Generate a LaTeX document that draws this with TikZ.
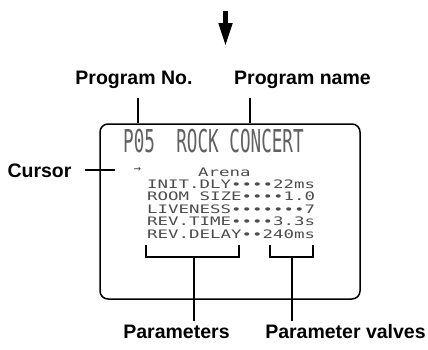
\documentclass[tikz,border=0pt]{standalone}
\usepackage{graphicx}
\usepackage{fontspec}
\setmainfont{Liberation Sans}
\newfontfamily\lcdfont{DejaVu Sans Mono}
\usepackage{tikz}
\usetikzlibrary{positioning, arrows.meta}

% condensed / widened lcd lettering
\newcommand{\lcdnarrow}[1]{\scalebox{0.56}[1]{#1}}
\newcommand{\lcdwide}[1]{\scalebox{1.49}[1]{#1}}

\begin{document}
\begin{tikzpicture}[
			x=1pt, y=-1pt,
			callout/.style={font=\fontsize{19.5}{22}\selectfont\bfseries, inner sep=0pt, anchor=base},
			screenbox/.style={rectangle, draw, line width=1.5pt, rounded corners=8pt, minimum width=260pt, minimum height=175pt},
			lcdbig/.style={font=\lcdfont\fontsize{31.5}{34}\selectfont, text=black!62, inner sep=0pt, anchor=base west},
			lcd/.style={font=\lcdfont\fontsize{11.7}{12.4}\selectfont, text=black!70, inner sep=0pt, anchor=base west},
			leader/.style={line width=2pt},
			flow/.style={line width=5.5pt, -{Triangle[width=12.5pt, length=24pt]}}
			]
			\useasboundingbox (0,0) rectangle (428,349);

			% Incoming arrow
			\coordinate (flowtop) at (225.5,10.5);
			\coordinate (flowtip) at (225.5,47);
			\draw [flow] (flowtop) -- (flowtip);

			% Display frame
			\node (screen) [screenbox] at (230,211.5) {};

			% Display contents
			\node (title) [lcdbig] at (123,152) {\lcdnarrow{P05\ \ ROCK CONCERT}};
			\node (curmark) [font=\lcdfont\fontsize{12}{12}\selectfont, text=black!70, inner sep=0pt] at (137.5,170) {→};
			\node (arena) [lcd] at (198,176) {\lcdwide{Arena}};
			\node (initdly) [lcd] at (147,188.5) {\lcdwide{INIT.DLY∙∙∙∙22ms}};
			\node (roomsize) [lcd] at (147,200.9) {\lcdwide{ROOM SIZE∙∙∙∙1.0}};
			\node (liveness) [lcd] at (147,213.3) {\lcdwide{LIVENESS∙∙∙∙∙∙∙7}};
			\node (revtime) [lcd] at (147,225.7) {\lcdwide{REV.TIME∙∙∙∙3.3s}};
			\node (revdelay) [lcd] at (147,238.1) {\lcdwide{REV.DELAY∙∙240ms}};

			% Callout labels
			\node (prgno) [callout] at (134,84) {Program No.};
			\node (prgname) [callout] at (302.5,84) {Program name};
			\node (cursor) [callout] at (39.5,177) {Cursor};
			\node (params) [callout] at (176.5,338) {Parameters};
			\node (valves) [callout] at (345.5,338) {Parameter valves};

			% Leaders top
			\coordinate (noend) at (138,98);
			\coordinate (nameend) at (250,98);
			\draw [leader] (noend) -- (noend |- screen.north);
			\draw [leader] (nameend) -- (nameend |- screen.north);

			% Leader cursor
			\coordinate (curA) at (85,170);
			\coordinate (curB) at (115,170);
			\draw [leader] (curA) -- (curB);

			% Brackets bottom
			\coordinate (parL) at (146,245);
			\coordinate (parR) at (239,245);
			\coordinate (parS) at (194,257);
			\draw [leader] (parL) -- ++(0,12) -| (parR);
			\draw [leader] (parS) -- ++(0,64);

			\coordinate (valL) at (270,245);
			\coordinate (valR) at (313,245);
			\coordinate (valS) at (292,257);
			\draw [leader] (valL) -- ++(0,12) -| (valR);
			\draw [leader] (valS) -- ++(0,64);
		\end{tikzpicture}
\end{document}
